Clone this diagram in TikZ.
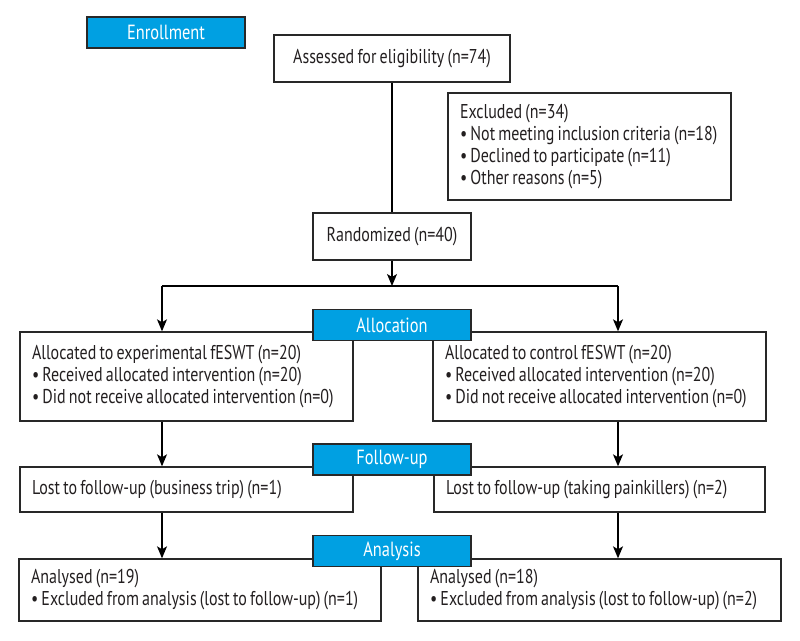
\documentclass[tikz,border=0pt]{standalone}
\usepackage{fontspec}
\setmainfont{PT Sans}[FakeStretch=0.8, WordSpace={0.75,0.5,0.5}]
\usetikzlibrary{arrows.meta}
\definecolor{stageblue}{RGB}{0,160,226}
\definecolor{edgegray}{RGB}{40,40,40}
\definecolor{inkblack}{RGB}{35,31,32}
\tikzset{
  % white boxes of the flow chart
  flowbox/.style = {draw=edgegray, line width=1.4pt, rectangle, text=inkblack,
    inner xsep=12pt, inner ysep=0pt, align=flush left,
    font=\fontsize{20}{22}\selectfont},
  % blue labels of the stages
  stagelabel/.style = {draw=edgegray, line width=1.5pt, fill=stageblue, text=white,
    minimum width=158pt, minimum height=31pt, inner sep=0pt,
    font=\fontsize{20.5}{24}\selectfont},
  % connectors
  flowline/.style = {draw=black, line width=1.2pt},
  flowarrow/.style = {flowline, -{Stealth[length=12pt, width=10pt, inset=3pt]}}
}

\begin{document}
\begin{tikzpicture}[x=1pt, y=-1pt]
    \useasboundingbox (0,0) rectangle (800,640);
    % Enrollment part
    \node[flowbox, minimum width=236pt, minimum height=47pt, align=center] (assessed) at (392,58.5)
      {Assessed for eligibility (n=74)};
    \node[flowbox, text width=259pt, minimum height=107pt] (excluded) at (589.5,146.5)
      {Excluded (n=34)\\\textbullet\ Not meeting inclusion criteria (n=18)\\\textbullet\ Declined to participate (n=11)\\\textbullet\ Other reasons (n=5)};
    \node[flowbox, minimum width=158pt, minimum height=47pt, align=center] (randomized) at (392,236.5)
      {Randomized (n=40)};
    % Allocation boxes
    \node[flowbox, text width=309pt, minimum height=89pt] (allocL) at (186.5,376.5)
      {Allocated to experimental fESWT (n=20)\\\textbullet\ Received allocated intervention (n=20)\\\textbullet\ Did not receive allocated intervention (n=0)};
    \node[flowbox, text width=309pt, minimum height=89pt] (allocR) at (599.5,376.5)
      {Allocated to control fESWT (n=20)\\\textbullet\ Received allocated intervention (n=20)\\\textbullet\ Did not receive allocated intervention (n=0)};
    % Follow-up boxes
    \node[flowbox, text width=309pt, minimum height=45pt] (followL) at (186.5,489.5)
      {Lost to follow-up (business trip) (n=1)};
    \node[flowbox, text width=307pt, minimum height=45pt] (followR) at (599.5,489.5)
      {Lost to follow-up (taking painkillers) (n=2)};
    % Analysis boxes
    \node[flowbox, text width=338pt, minimum height=62pt] (analysisL) at (200,590)
      {Analysed (n=19)\\\textbullet\ Excluded from analysis (lost to follow-up) (n=1)};
    \node[flowbox, text width=339pt, minimum height=62pt] (analysisR) at (599.5,590)
      {Analysed (n=18)\\\textbullet\ Excluded from analysis (lost to follow-up) (n=2)};
    % Split points of the two arms
    \coordinate (splitL) at (162,286);
    \coordinate (splitR) at (618,286);
    % Connectors
    \draw[flowline] (assessed) -- (randomized);
    \draw[flowarrow] (randomized) -- (randomized.south |- splitL);
    \draw[flowline] (splitL) -- (splitR);
    \draw[flowarrow] (splitL) -- (allocL.north -| splitL);
    \draw[flowarrow] (splitR) -- (allocR.north -| splitR);
    \draw[flowarrow] (allocL.south -| splitL) -- (followL.north -| splitL);
    \draw[flowarrow] (allocR.south -| splitR) -- (followR.north -| splitR);
    \draw[flowarrow] (followL.south -| splitL) -- (analysisL.north -| splitL);
    \draw[flowarrow] (followR.south -| splitR) -- (analysisR.north -| splitR);
    % Stage labels on top
    \node[stagelabel] (enroll) at (166,32.5) {Enrollment};
    \foreach \stage/\ypos/\stagetext in {allocation/325/Allocation, followup/459.5/Follow-up, analysis/551/Analysis}
    \node[stagelabel] (\stage) at (392,\ypos) {\stagetext};
\end{tikzpicture}
\end{document}
